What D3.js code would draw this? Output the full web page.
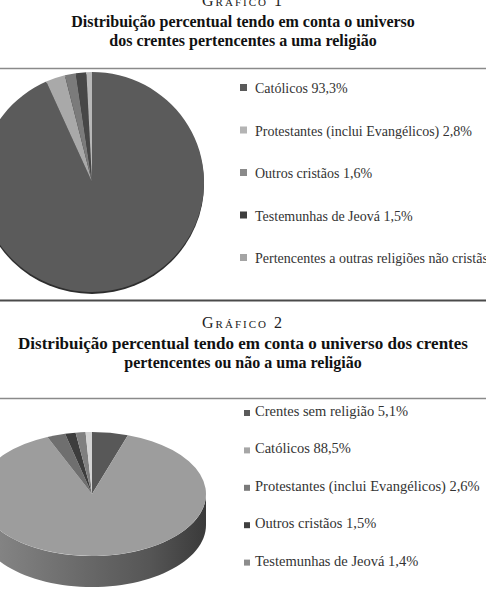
<!DOCTYPE html>
<html>
<head>
<meta charset="utf-8">
<script src="https://cdn.jsdelivr.net/npm/d3@7"></script>
<style>
  body { margin: 0; background: #fff; }
  svg { display: block; font-family: "Liberation Serif", "DejaVu Serif", serif; }
</style>
</head>
<body>
<div id="vis"></div>
<script>
// chart 1 data: crentes pertencentes a uma religião
var labels1 = ['Católicos', 'Protestantes (inclui Evangélicos)', 'Outros cristãos', 'Testemunhas de Jeová', 'Pertencentes a outras religiões não cristãs'];
var values1 = [93.3, 2.8, 1.6, 1.5, 0.8];
var colors1 = ['#5b5b5b', '#a9a9a9', '#7b7b7b', '#474747', '#b8b8b8'];
var keys1 = ['#5a5a5a', '#b4b4b4', '#8a8a8a', '#3e3e3e', '#a4a4a4'];

// chart 2 data: crentes pertencentes ou não a uma religião
var labels2 = ['Crentes sem religião', 'Católicos', 'Protestantes (inclui Evangélicos)', 'Outros cristãos', 'Testemunhas de Jeová', 'Pertencentes a outras religiões não cristãs'];
var values2 = [5.1, 88.5, 2.6, 1.5, 1.4, 0.9];
var colors2 = ['#585858', '#9d9d9d', '#6f6f6f', '#3d3d3d', '#808080', '#d4d4d4'];
var keys2 = ['#5a5a5a', '#a6a6a6', '#7a7a7a', '#404040', '#8c8c8c', '#c0c0c0'];

// number formatting with comma decimals
function pct(v) { return v.toFixed(1).replace('.', ',') + '%'; }

let width = 486, height = 591;

let svg = d3.select('#vis')
  .append('svg')
  .attr('width', width)
  .attr('height', height)
  .attr('viewBox', [0, 0, width, height].join(' '));

// ---- titles ----
function title(num, lines, sizes, y0) {
  svg.append('text')
    .attr('x', 243)
    .attr('y', y0)
    .attr('text-anchor', 'middle')
    .style('font-size', '16px')
    .style('letter-spacing', '2px')
    .style('font-variant', 'small-caps')
    .attr('fill', '#222')
    .text('Gráfico ' + num);
  lines.forEach(function(l, i) {
    svg.append('text')
      .attr('x', 243)
      .attr('y', y0 + 21 + i * 18.5)
      .attr('text-anchor', 'middle')
      .style('font-size', sizes[i] + 'px')
      .style('font-weight', 'bold')
      .attr('fill', '#111')
      .text(l);
  });
}
title(1, ['Distribuição percentual tendo em conta o universo', 'dos crentes pertencentes a uma religião'], [16, 16], 6);
title(2, ['Distribuição percentual tendo em conta o universo dos crentes', 'pertencentes ou não a uma religião'], [17, 16], 328);

// rules
svg.append('line').attr('x1', 0).attr('x2', width).attr('y1', 68.5).attr('y2', 68.5)
  .attr('stroke', '#8a8a8a').attr('stroke-width', 1.5);
svg.append('line').attr('x1', 0).attr('x2', width).attr('y1', 300.5).attr('y2', 300.5)
  .attr('stroke', '#4a4a4a').attr('stroke-width', 2);
svg.append('line').attr('x1', 0).attr('x2', width).attr('y1', 398.5).attr('y2', 398.5)
  .attr('stroke', '#8a8a8a').attr('stroke-width', 1.5);

let pie = d3.pie().sort(null).value(function(d) { return d; });

// ---- chart 1: flat pie ----
let r1 = 112;
let arc1 = d3.arc().innerRadius(0).outerRadius(r1);
let g1 = svg.append('g').attr('transform', 'translate(92,182) scale(1,' + (110 / r1) + ')');
g1.append('circle').attr('r', r1).attr('cy', 2).attr('fill', '#2e2e2e');
g1.selectAll('path')
  .data(pie(values1))
  .join('path')
  .attr('d', arc1)
  .attr('fill', function(d, i) { return colors1[i]; });

// legend 1
let leg1 = svg.append('g');
labels1.forEach(function(l, i) {
  let y = 88 + i * 42.5;
  leg1.append('rect').attr('x', 240).attr('y', y - 4).attr('width', 7).attr('height', 7).attr('fill', keys1[i]);
  leg1.append('text').attr('x', 255).attr('y', y + 5)
    .style('font-size', '14px').attr('fill', '#333')
    .text(l + ' ' + pct(values1[i]));
});

// ---- chart 2: 3D pie ----
let cx = 92, cy = 494, rx = 114, ry = 62, depth = 31;
function pt(a, dy) { return [cx + rx * Math.sin(a), cy - ry * Math.cos(a) + (dy || 0)]; }

let defs = svg.append('defs');
let grad = defs.append('linearGradient').attr('id', 'side').attr('x1', 0).attr('x2', 1).attr('y1', 0).attr('y2', 0);
grad.append('stop').attr('offset', '0%').attr('stop-color', '#8a8a8a');
grad.append('stop').attr('offset', '45%').attr('stop-color', '#6a6a6a');
grad.append('stop').attr('offset', '75%').attr('stop-color', '#565656');
grad.append('stop').attr('offset', '100%').attr('stop-color', '#3a3a3a');

let slices2 = pie(values2);
let g2 = svg.append('g');

// side walls: only the front half (angles between PI/2 and 3PI/2) is visible
slices2.forEach(function(d, i) {
  let a0 = Math.max(d.startAngle, Math.PI / 2), a1 = Math.min(d.endAngle, 3 * Math.PI / 2);
  if (a1 <= a0) return;
  let p = d3.path(), n = 60, k;
  let s = pt(a0);
  p.moveTo(s[0], s[1]);
  for (k = 1; k <= n; k++) { let q = pt(a0 + (a1 - a0) * k / n); p.lineTo(q[0], q[1]); }
  for (k = n; k >= 0; k--) { let q = pt(a0 + (a1 - a0) * k / n, depth); p.lineTo(q[0], q[1]); }
  p.closePath();
  g2.append('path').attr('d', p.toString()).attr('fill', 'url(#side)');
});

// top face
let arc2 = d3.arc().innerRadius(0).outerRadius(rx);
g2.append('g').attr('transform', 'translate(' + cx + ',' + cy + ') scale(1,' + (ry / rx) + ')')
  .selectAll('path')
  .data(slices2)
  .join('path')
  .attr('d', arc2)
  .attr('fill', function(d, i) { return colors2[i]; });

// legend 2
let leg2 = svg.append('g');
labels2.forEach(function(l, i) {
  let y = 411 + i * 37.4;
  leg2.append('rect').attr('x', 244).attr('y', y - 1).attr('width', 6).attr('height', 6).attr('fill', keys2[i]);
  leg2.append('text').attr('x', 255).attr('y', y + 5)
    .style('font-size', '14.5px').attr('fill', '#333')
    .text(l + ' ' + pct(values2[i]));
});
</script>
</body>
</html>
